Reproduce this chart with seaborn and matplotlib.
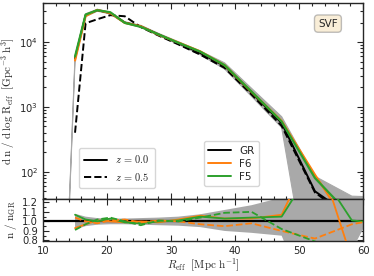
import numpy as np
import pandas as pd
import matplotlib
matplotlib.use("Agg")
import matplotlib.pyplot as plt
import seaborn as sns
from matplotlib.lines import Line2D
from matplotlib.ticker import MultipleLocator, LogLocator, NullFormatter

sns.set_style("ticks")
plt.rcParams['font.family'] = ['DejaVu Sans']
plt.rcParams['mathtext.fontset'] = 'cm'

#%% data
r_eff = [13.51, 15.0, 16.65, 18.48, 20.51, 22.77, 25.27, 28.05, 31.14, 34.56,
         38.36, 42.58, 47.27, 52.47, 58.24, 64.65]
# GR abundance (first bin only carries the error band)
gr_z00 = [1, 5600, 26000, 31000, 28000, 20000, 17500, 13100, 9650, 6770,
          4270, 1650, 565, 50, 20, 8]
gr_z05 = [np.nan, 400, 19500, 22500, 26000, 25000, 17000, 12600, 9200, 6400,
          4000, 1550, 510, 48, 18, 7]
# ratios to GR
f6_z00 = [np.nan, 0.93, 0.97, 1.01, 1.00, 0.99, 1.00, 0.99, 1.02, 1.06,
          1.03, 1.03, 1.07, 1.80, 0.60, 0.90]
f5_z00 = [np.nan, 1.07, 1.02, 1.00, 1.03, 0.99, 0.98, 1.00, 1.01, 1.05,
          1.03, 1.04, 1.05, 1.60, 1.01, 0.97]
f6_z05 = [np.nan, 1.04, 1.00, 0.98, 1.01, 1.02, 0.99, 1.01, 1.00, 0.97,
          0.95, 0.98, 0.90, 0.82, 0.97, 1.05]
f5_z05 = [np.nan, 0.91, 0.97, 1.02, 1.04, 1.00, 0.96, 1.01, 1.00, 1.04,
          1.09, 1.10, 0.92, 0.79, 0.60, 0.60]
# GR scatter band (relative)
band_hi = [1.0, 1.08, 1.05, 1.035, 1.03, 1.03, 1.035, 1.04, 1.05, 1.075,
           1.12, 1.17, 1.25, 1.7, 2.1, 5.0]
band_lo = [1.0, 0.915, 0.95, 0.965, 0.97, 0.97, 0.965, 0.96, 0.955, 0.94,
           0.90, 0.88, 0.85, 0.01, 0.70, 1.5]

colors = {'GR': 'black', 'F6': '#ff7f0e', 'F5': '#2ca02c'}

R = np.array(r_eff)
g0 = np.array(gr_z00, dtype=float)
g5 = np.array(gr_z05, dtype=float)
ratios = {('F6', '0.0'): np.array(f6_z00), ('F5', '0.0'): np.array(f5_z00),
          ('F6', '0.5'): np.array(f6_z05), ('F5', '0.5'): np.array(f5_z05)}

#%% long tables for seaborn
top = pd.concat([
    pd.DataFrame({'R': R[1:], 'n': g5[1:], 'model': 'GR', 'z': '0.5'}),
    pd.DataFrame({'R': R[1:], 'n': g0[1:], 'model': 'GR', 'z': '0.0'}),
    pd.DataFrame({'R': R[1:], 'n': (g0 * ratios[('F6', '0.0')])[1:], 'model': 'F6', 'z': '0.0'}),
    pd.DataFrame({'R': R[1:], 'n': (g0 * ratios[('F5', '0.0')])[1:], 'model': 'F5', 'z': '0.0'}),
])
rat = []
for (m, z), v in ratios.items():
    rat.append(pd.DataFrame({'R': R[1:], 'ratio': v[1:], 'model': m, 'z': z}))
rat = pd.concat(rat)

#%%
fig = plt.figure(figsize=(3.74, 2.76), dpi=100)
ax = fig.add_axes([0.115, 0.279, 0.856, 0.71])
ax2 = fig.add_axes([0.115, 0.127, 0.856, 0.152], sharex=ax)

ax.fill_between(R, g0 * np.array(band_lo), g0 * np.array(band_hi),
                color='darkgray', lw=0.8, edgecolor='darkgray', zorder=1)
for (m, z), sub in top.groupby(['model', 'z'], sort=False):
    sns.lineplot(data=sub, x='R', y='n', color=colors[m], ax=ax, sort=False,
                 estimator=None, lw=1.6 if m != 'GR' else 1.4,
                 linestyle='--' if z == '0.5' else '-', zorder=3)
ax.set_yscale('log')
ax.set_ylim(38, 40000)
ax.set_xlim(10, 60)
ax.set_xlabel('')
ax.set_ylabel(r'$\mathrm{d\;n\;/\;d\;log\;R_{eff}}\ \ [\mathrm{Gpc^{-3}\;h^3}]$',
              fontsize=8, labelpad=2)
ax.yaxis.set_major_locator(LogLocator(base=10))
ax.yaxis.set_minor_locator(LogLocator(base=10, subs=np.arange(2, 10)))
ax.yaxis.set_minor_formatter(NullFormatter())
ax.tick_params(labelbottom=False)

# ratio panel
R1 = R[1:]
ax2.fill_between(R1, np.array(band_lo)[1:], np.array(band_hi)[1:],
                 color='darkgray', lw=0, zorder=1)
ax2.axhline(1.0, color='black', lw=1.6, zorder=2)
for (m, z), sub in rat.groupby(['model', 'z'], sort=False):
    sns.lineplot(data=sub, x='R', y='ratio', color=colors[m], ax=ax2, sort=False,
                 estimator=None, lw=1.3, linestyle='--' if z == '0.5' else '-', zorder=3)
ax2.set_ylim(0.795, 1.235)
ax2.set_xlim(10, 60)
ax2.yaxis.set_major_locator(MultipleLocator(0.1))
ax2.yaxis.set_minor_locator(MultipleLocator(0.05))
ax2.set_ylabel(r'$\mathrm{n\ /\ n_{GR}}$', fontsize=8, labelpad=2)
ax2.set_xlabel(r'$R_{\rm eff}\ \ [\mathrm{Mpc\ h^{-1}}]$', fontsize=8, labelpad=1)

for a in (ax, ax2):
    a.xaxis.set_major_locator(MultipleLocator(10))
    a.xaxis.set_minor_locator(MultipleLocator(2))
    a.tick_params(which='both', direction='in', top=True, right=True, labelsize=7.2, width=0.8)
    a.tick_params(which='major', length=4)
    a.tick_params(which='minor', length=2)
    for s in a.spines.values():
        s.set_linewidth(1.0)

# legends
h_z = [Line2D([], [], color='black', lw=1.4, ls='-'),
       Line2D([], [], color='black', lw=1.4, ls='--')]
leg1 = ax.legend(h_z, [r'$z\,=\,0.0$', r'$z\,=\,0.5$'], loc='lower left',
                 bbox_to_anchor=(0.095, 0.03), fontsize=7.5, handlelength=2.2,
                 borderpad=0.5, labelspacing=0.5)
ax.add_artist(leg1)
h_m = [Line2D([], [], color=colors[m], lw=1.4) for m in ['GR', 'F6', 'F5']]
ax.legend(h_m, ['GR', 'F6', 'F5'], loc='lower right', bbox_to_anchor=(0.69, 0.04),
          fontsize=7.5, handlelength=2.2, borderpad=0.4, labelspacing=0.3)

ax.text(0.89, 0.895, 'SVF', transform=ax.transAxes, fontsize=7.5, ha='center', va='center',
        bbox=dict(boxstyle='round,pad=0.35', facecolor='wheat', alpha=0.5, edgecolor='gray'))

fig.savefig('out.png', dpi=100)
